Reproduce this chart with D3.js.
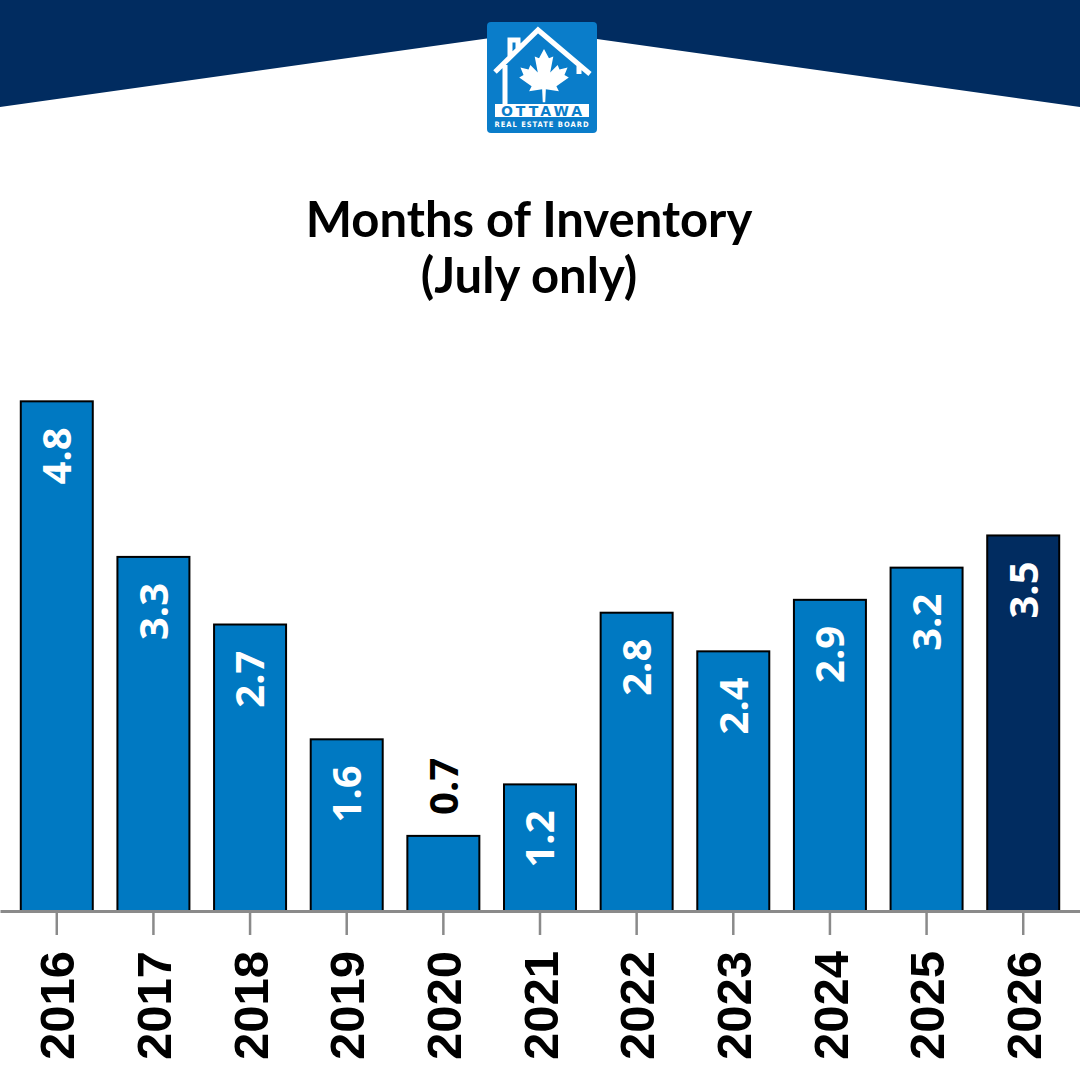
<!DOCTYPE html>
<html>
<head>
<meta charset="utf-8">
<script src="https://cdn.jsdelivr.net/npm/d3@7"></script>
<style>
  html, body { margin: 0; padding: 0; background: #fff; }
  svg { display: block; }
</style>
</head>
<body>
<svg id="chart" width="1080" height="1080"></svg>
<script>
// data
const years = ["2016", "2017", "2018", "2019", "2020", "2021", "2022", "2023", "2024", "2025", "2026"];
const months = [4.75, 3.3, 2.67, 1.6, 0.7, 1.18, 2.78, 2.42, 2.9, 3.2, 3.5];
const titleLines = ["Months of Inventory", "(July only)"];

const blue = "#0079c2";
const navy = "#012c60";

const svg = d3.select("#chart");

// header band
svg.append("path")
  .attr("d", "M0,0H1080V107L540,31L0,107Z")
  .attr("fill", navy);

// logo
const logo = svg.append("g").attr("transform", "translate(487,22)");
logo.append("rect")
  .attr("width", 110).attr("height", 111).attr("rx", 4)
  .attr("fill", "#0a7dca");
// house outline
logo.append("path")
  .attr("d", "M8,50 L51,8 L103,52 M23,36 V18 H31 V28 M18,43 V82 M92,44 V52")
  .attr("fill", "none").attr("stroke", "#fff").attr("stroke-width", 5)
  .attr("stroke-linejoin", "miter");
// maple leaf
const leaf = [[0,-50],[-8,-35],[-15,-38],[-10,-12],[-22,-24],[-25,-17],[-38,-20],[-33,-8],[-40,-4],
  [-20,10],[-24,18],[-3,15],[-2,36],[2,36],[3,15],[24,18],[20,10],[40,-4],[33,-8],[38,-20],[25,-17],
  [22,-24],[10,-12],[15,-38],[8,-35]];
logo.append("path")
  .attr("transform", "translate(57,58) scale(0.62)")
  .attr("d", d3.line()(leaf) + "Z")
  .attr("fill", "#fff");
logo.append("rect")
  .attr("x", 8).attr("y", 82).attr("width", 94).attr("height", 13)
  .attr("fill", "#fff");
logo.append("text")
  .attr("x", 56).attr("y", 93.8)
  .attr("text-anchor", "middle")
  .attr("font-family", "DejaVu Sans")
  .attr("font-weight", "bold")
  .attr("font-size", 14)
  .attr("letter-spacing", 3)
  .attr("fill", "#0a7dca")
  .text("OTTAWA");
logo.append("text")
  .attr("x", 55).attr("y", 105)
  .attr("text-anchor", "middle")
  .attr("font-family", "DejaVu Sans Condensed")
  .attr("font-weight", "bold")
  .attr("font-size", 7.5)
  .attr("letter-spacing", 1)
  .attr("fill", "#fff")
  .text("REAL ESTATE BOARD");

// title
svg.append("g").selectAll("text")
  .data(titleLines)
  .join("text")
  .attr("x", 529)
  .attr("y", (d, i) => 237 + i * 56)
  .attr("text-anchor", "middle")
  .attr("font-family", "Lato")
  .attr("font-weight", "bold")
  .attr("font-size", 49)
  .attr("fill", "#000")
  .text(d => d);

// scales
const baseY = 911;
const x = d3.scaleBand()
  .domain(years)
  .range([0, 1080])
  .paddingInner(0.255)
  .paddingOuter(0.215);

const y = d3.scaleLinear()
  .domain([0, 5])
  .range([baseY, baseY - 5 * 107.3]);

// bars
svg.append("g").selectAll("rect")
  .data(years)
  .join("rect")
  .attr("x", d => x(d))
  .attr("y", (d, i) => y(months[i]))
  .attr("width", x.bandwidth())
  .attr("height", (d, i) => baseY - y(months[i]))
  .attr("fill", (d, i) => i === years.length - 1 ? navy : blue)
  .attr("stroke", "#000")
  .attr("stroke-width", 2);

// value labels
const fmt = d3.format(".1f");
svg.append("g").selectAll("text")
  .data(years)
  .join("text")
  .attr("transform", (d, i) => {
    const cx = x(d) + x.bandwidth() / 2;
    const inside = months[i] >= 1;
    return `translate(${cx},${inside ? y(months[i]) + 26 : y(months[i]) - 21}) rotate(-90)`;
  })
  .attr("text-anchor", (d, i) => months[i] >= 1 ? "end" : "start")
  .attr("dy", "0.36em")
  .attr("font-family", "Open Sans")
  .attr("font-weight", 700)
  .attr("font-size", 40)
  .attr("fill", (d, i) => months[i] >= 1 ? "#fff" : "#000")
  .text((d, i) => fmt(months[i]));

// x axis
const axis = svg.append("g")
  .attr("transform", `translate(0,${baseY})`)
  .call(d3.axisBottom(x).tickSize(24).tickSizeOuter(0));

axis.select(".domain").attr("stroke", "#8a8a8a").attr("stroke-width", 3);
axis.selectAll(".tick line").attr("stroke", "#8a8a8a").attr("stroke-width", 2.5);
axis.selectAll(".tick text")
  .attr("transform", "rotate(-90)")
  .attr("text-anchor", "end")
  .attr("x", -40)
  .attr("y", 0)
  .attr("dy", "0.36em")
  .attr("font-family", "Liberation Sans")
  .attr("font-weight", "bold")
  .attr("font-size", 49)
  .attr("fill", "#000");
</script>
</body>
</html>
